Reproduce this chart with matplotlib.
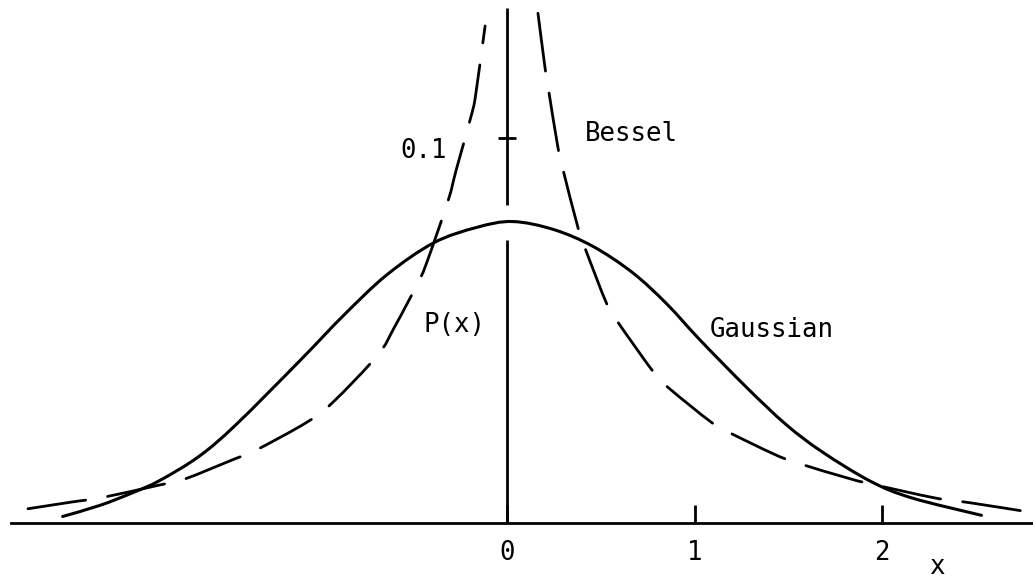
import matplotlib
matplotlib.use("Agg")
import matplotlib.pyplot as plt
from matplotlib.path import Path
from matplotlib.patches import PathPatch

# Gaussian probability density (solid curve)
gauss_x = [-2.37, -2.17, -1.99, -1.85, -1.64, -1.44, -1.10, -0.87, -0.64, -0.39, -0.16,
           0.03, 0.25, 0.46, 0.67, 0.85, 1.03, 1.28, 1.49, 1.68, 1.94, 2.16, 2.53]
gauss_p = [0.0017, 0.0046, 0.0080, 0.0111, 0.0174, 0.0258, 0.0424, 0.0540, 0.0645, 0.0728, 0.0768,
           0.0783, 0.0762, 0.0718, 0.0650, 0.0570, 0.0475, 0.0351, 0.0255, 0.0185, 0.0108, 0.0065, 0.0020]

# Bessel density (dashed), two branches since it blows up at x = 0
bessel_left_x = [-2.555, -2.315, -2.16, -1.86, -1.72, -1.46, -1.34, -1.07, -0.93, -0.69,
                 -0.60, -0.48, -0.43, -0.315, -0.27, -0.187, -0.165, -0.117]
bessel_left_p = [0.0037, 0.0055, 0.0066, 0.0098, 0.0114, 0.0165, 0.0189, 0.0261, 0.0313, 0.0436,
                 0.0509, 0.0619, 0.0674, 0.0836, 0.0919, 0.1065, 0.1120, 0.1291]
bessel_right_x = [0.165, 0.203, 0.224, 0.272, 0.299, 0.379, 0.416, 0.533, 0.592, 0.789,
                  0.869, 1.083, 1.173, 1.419, 1.541, 1.829, 1.936, 2.283, 2.464, 2.779]
bessel_right_p = [0.1324, 0.1181, 0.1117, 0.0974, 0.0917, 0.0766, 0.0714, 0.0568, 0.0521, 0.0387,
                  0.0348, 0.0264, 0.0238, 0.0180, 0.0157, 0.0115, 0.0102, 0.0065, 0.0053, 0.0029]

x_ticks = [0, 1, 2]
x_tick_labels = ["0", "1", "2"]
y_ticks = [0.1]
y_tick_labels = ["0.1"]

plt.rcParams["font.family"] = "DejaVu Sans Mono"
plt.rcParams["lines.scale_dashes"] = False
FS = 18.5


def smooth_path(xs, ys):
    # Catmull-Rom through the points, written as cubic Bezier segments
    pts = list(zip(xs, ys))
    n = len(pts)
    verts = [pts[0]]
    codes = [Path.MOVETO]
    for i in range(n - 1):
        p0 = pts[max(i - 1, 0)]
        p1 = pts[i]
        p2 = pts[i + 1]
        p3 = pts[min(i + 2, n - 1)]
        c1 = (p1[0] + (p2[0] - p0[0]) / 6, p1[1] + (p2[1] - p0[1]) / 6)
        c2 = (p2[0] - (p3[0] - p1[0]) / 6, p2[1] - (p3[1] - p1[1]) / 6)
        verts += [c1, c2, p2]
        codes += [Path.CURVE4] * 3
    return Path(verts, codes)


fig = plt.figure(figsize=(10.33, 5.82), dpi=100)
ax = fig.add_axes([0, 0, 1, 1])
ax.set_xlim(-2.704, 2.805)
ax.set_ylim(-0.01532, 0.13584)

ax.add_patch(PathPatch(smooth_path(gauss_x, gauss_p), fill=False, edgecolor="black",
                       lw=2.2, capstyle="round"))
for bx, bp in ((bessel_left_x, bessel_left_p), (bessel_right_x, bessel_right_p)):
    ax.add_patch(PathPatch(smooth_path(bx, bp), fill=False, edgecolor="black",
                           lw=2.0, linestyle=(0, (42, 16)), capstyle="round"))

# axes crossing at the origin
for side in ("top", "right"):
    ax.spines[side].set_visible(False)
ax.spines["bottom"].set_position(("data", 0))
ax.spines["bottom"].set_bounds(-2.645, 2.805)
ax.spines["bottom"].set_linewidth(2.0)
ax.spines["left"].set_position(("data", 0))
ax.spines["left"].set_visible(False)

# vertical axis, broken where it meets the Gaussian peak
ax.vlines(0, 0, 0.0735, color="black", lw=2.0)
ax.vlines(0, 0.0826, 0.1338, color="black", lw=2.0)

ax.set_xticks(x_ticks)
ax.set_xticklabels(x_tick_labels)
ax.tick_params(axis="x", direction="in", length=13, width=2, pad=12, labelsize=FS)
ax.set_yticks(y_ticks)
ax.set_yticklabels(y_tick_labels)
ax.tick_params(axis="y", direction="inout", length=13, width=2, pad=36.7, labelsize=FS)
for lbl in ax.get_yticklabels():
    lbl.set_verticalalignment("top")

ax.text(0.416, 0.0992, "Bessel", fontsize=FS, ha="left", va="baseline")
ax.text(-0.448, 0.0496, "P(x)", fontsize=FS, ha="left", va="baseline")
ax.text(1.083, 0.0483, "Gaussian", fontsize=FS, ha="left", va="baseline")
ax.text(2.293, -0.0133, "x", fontsize=FS, ha="center", va="baseline")

fig.savefig("out.png", dpi=100)
